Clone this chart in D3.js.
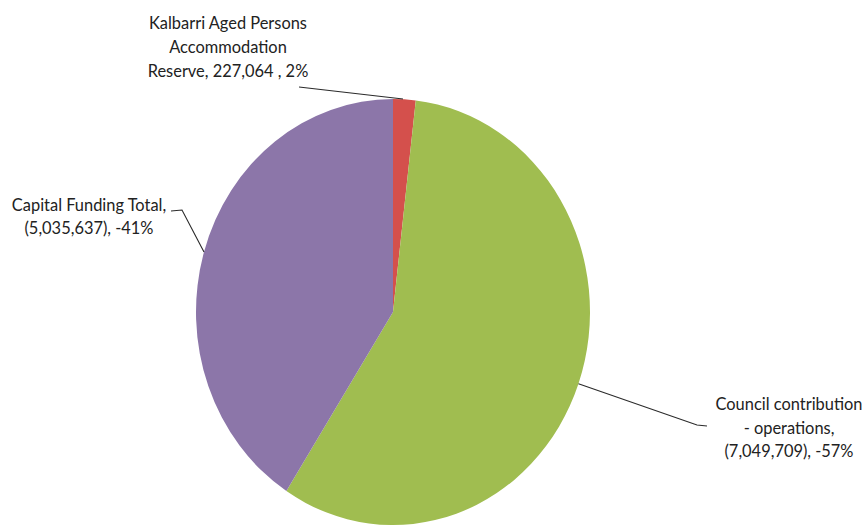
<!DOCTYPE html>
<html>
<head>
<meta charset="utf-8">
<script src="https://cdn.jsdelivr.net/npm/d3@7"></script>
<style>
  html, body { margin: 0; padding: 0; background: #fff; }
  svg { display: block; }
  text { font-family: Lato, "Liberation Sans", sans-serif; fill: #222; }
</style>
</head>
<body>
<svg id="chart" width="864" height="526"></svg>
<script>
// Funding sources, in the order they are laid out clockwise from 12 o'clock
const categories = [
  "Kalbarri Aged Persons Accommodation Reserve",
  "Council contribution - operations",
  "Capital Funding Total"
];
const values = [227064, 7049709, 5035637];
const labelLines = [
  ["Kalbarri Aged Persons", "Accommodation", "Reserve, 227,064 , 2%"],
  ["Council contribution", "- operations,", "(7,049,709), -57%"],
  ["Capital Funding Total,", "(5,035,637), -41%"]
];
const colors = ["#d4504c", "#a0bd50", "#8c76a9"];

const W = 864, H = 526;
const cx = 393, cy = 312, rx = 197, ry = 213;

const svg = d3.select("#chart");

const pie = d3.pie().sort(null).value(d => d)(values);
const arc = d3.arc().innerRadius(0).outerRadius(rx);

const g = svg.append("g")
  .attr("transform", `translate(${cx},${cy}) scale(1,${ry / rx})`);

g.selectAll("path")
  .data(pie)
  .join("path")
  .attr("d", arc)
  .attr("fill", (d, i) => colors[i]);

// point on the (slightly elliptical) rim at the middle of a slice
function rimPoint(d, k = 1) {
  const a = (d.startAngle + d.endAngle) / 2;
  return [cx + rx * k * Math.sin(a), cy - ry * k * Math.cos(a)];
}

// label layout: anchor centre x, first baseline, line pitch, leader points after the rim
const layout = [
  { x: 228, y: 29, pitch: 24, leader: [[299, 87]] },
  { x: 789, y: 410, pitch: 23.5, leader: [[697, 425], [707, 426]] },
  { x: 89, y: 211, pitch: 22.5, leader: [[182, 210], [171, 211]] }
];

// size the text so the labels keep their widths
const probe = svg.append("text").attr("font-size", 18).text(labelLines[1][0]);
const fs = 18 * 147 / probe.node().getComputedTextLength();
probe.remove();

pie.forEach((d, i) => {
  const L = layout[i];
  const start = i === 0 ? [403, 99] : rimPoint(d);
  const pts = [start, ...L.leader];
  svg.append("path")
    .attr("d", d3.line()(pts))
    .attr("fill", "none")
    .attr("stroke", "#2a2a2a")
    .attr("stroke-width", 1.1);

  const t = svg.append("text")
    .attr("text-anchor", "middle")
    .attr("font-size", fs.toFixed(2));
  labelLines[i].forEach((s, j) => {
    t.append("tspan").attr("x", L.x).attr("y", L.y + j * L.pitch).text(s);
  });
});
</script>
</body>
</html>
